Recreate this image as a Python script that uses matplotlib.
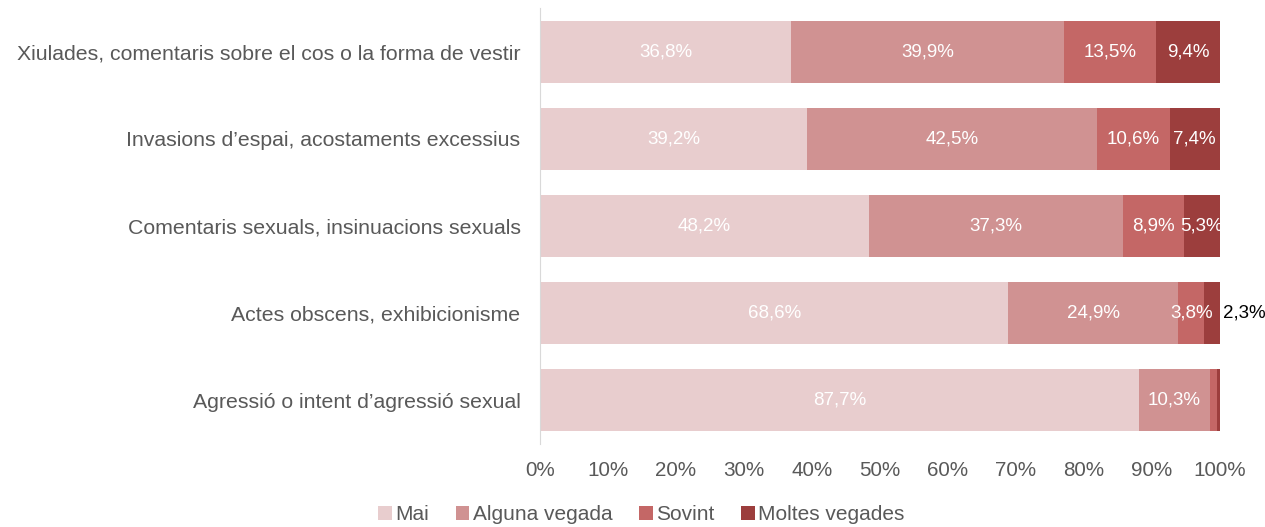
import matplotlib
matplotlib.use("Agg")
import matplotlib.pyplot as plt
import numpy as np
from matplotlib.patches import Patch

categories = [
    "Xiulades, comentaris sobre el cos o la forma de vestir",
    "Invasions d\u2019espai, acostaments excessius",
    "Comentaris sexuals, insinuacions sexuals",
    "Actes obscens, exhibicionisme",
    "Agressi\u00f3 o intent d\u2019agressi\u00f3 sexual",
]
series_names = ["Mai", "Alguna vegada", "Sovint", "Moltes vegades"]
mai = [36.8, 39.2, 48.2, 68.6, 87.7]
alguna = [39.9, 42.5, 37.3, 24.9, 10.3]
sovint = [13.5, 10.6, 8.9, 3.8, 1.0]
moltes = [9.4, 7.4, 5.3, 2.3, 0.5]
colors = ["#E8CDCE", "#D09292", "#C46766", "#9C3E3D"]

plt.rcParams['font.family'] = ['Liberation Sans', 'DejaVu Sans']

fig = plt.figure(figsize=(12.65, 5.27), dpi=100)
ax = fig.add_axes([540/1265, 1-444/527, 680/1265, 436/527])

data = np.array([mai, alguna, sovint, moltes])
totals = data.sum(axis=0)
norm = data / totals * 100
y = np.arange(len(categories))
left = np.zeros(len(categories))
for i, name in enumerate(series_names):
    ax.barh(y, norm[i], left=left, height=0.71, color=colors[i], label=name)
    for j in range(len(categories)):
        v = data[i, j]
        cx = left[j] + norm[i, j] / 2
        if j == 4 and i >= 2:
            continue
        if j == 3 and i == 3:
            ax.text(left[j] + norm[i, j] + 0.4, y[j], f"{v:.1f}%".replace('.', ','),
                    ha='left', va='center', color='black', fontsize=13.5)
            continue
        ax.text(cx, y[j], f"{v:.1f}%".replace('.', ','), ha='center', va='center',
                color='white', fontsize=13.5)
    left += norm[i]

ax.set_ylim(4.5, -0.5)
ax.set_xlim(0, 100)
ax.set_yticks(y)
ax.set_yticklabels(categories, fontsize=15.3, color='#595959')
ax.set_xticks(np.arange(0, 101, 10))
ax.set_xticklabels([f"{t}%" for t in range(0, 101, 10)], fontsize=14.9, color='#595959')
ax.tick_params(length=0)
ax.tick_params(axis='y', pad=14)
ax.tick_params(axis='x', pad=12)
for s in ['top', 'right', 'bottom']:
    ax.spines[s].set_visible(False)
ax.spines['left'].set_color('#D9D9D9')

handles = [Patch(facecolor=c, label=n) for c, n in zip(colors, series_names)]
fig.legend(handles=handles, loc='lower center', bbox_to_anchor=(0.507, -0.03), ncol=4,
           frameon=False, fontsize=15, handlelength=0.65, handleheight=0.65,
           handletextpad=0.15, columnspacing=1.3, labelcolor='#595959')

fig.savefig("out.png", dpi=100)
